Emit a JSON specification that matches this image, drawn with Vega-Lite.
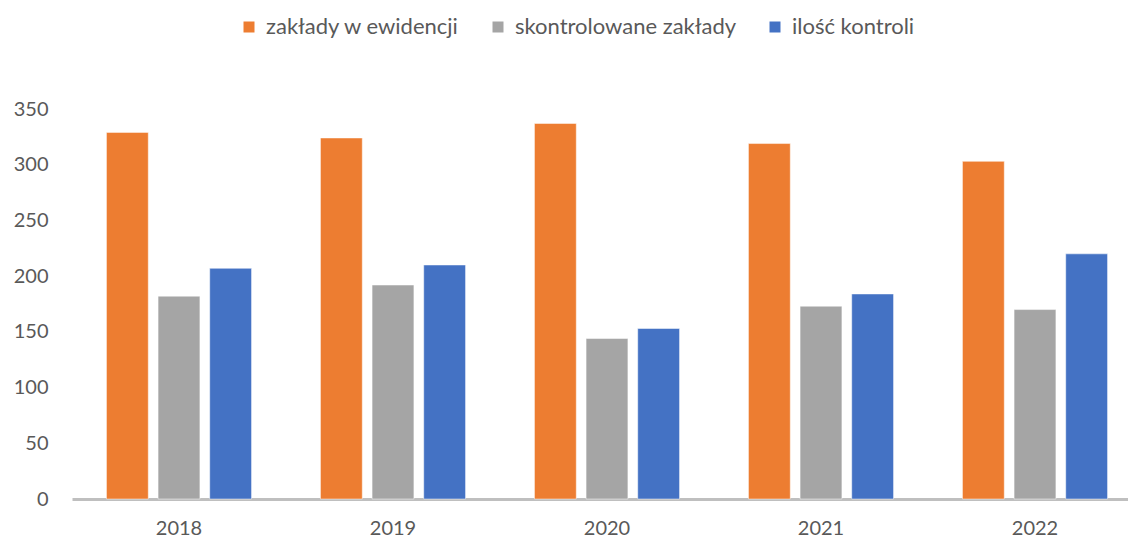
{
  "$schema": "https://vega.github.io/schema/vega-lite/v6.json",
  "width": 1070,
  "height": 390,
  "autosize": "none",
  "padding": {"left": 72, "top": 109, "right": 0, "bottom": 39},
  "background": "white",
  "config": {
    "font": "Lato",
    "view": {"stroke": null}
  },
  "data": {
    "values": [
      {"rok": "2018", "seria": "zakłady w ewidencji", "wartosc": 329},
      {"rok": "2018", "seria": "skontrolowane zakłady", "wartosc": 182},
      {"rok": "2018", "seria": "ilość kontroli", "wartosc": 207},
      {"rok": "2019", "seria": "zakłady w ewidencji", "wartosc": 324},
      {"rok": "2019", "seria": "skontrolowane zakłady", "wartosc": 192},
      {"rok": "2019", "seria": "ilość kontroli", "wartosc": 210},
      {"rok": "2020", "seria": "zakłady w ewidencji", "wartosc": 337},
      {"rok": "2020", "seria": "skontrolowane zakłady", "wartosc": 144},
      {"rok": "2020", "seria": "ilość kontroli", "wartosc": 153},
      {"rok": "2021", "seria": "zakłady w ewidencji", "wartosc": 319},
      {"rok": "2021", "seria": "skontrolowane zakłady", "wartosc": 173},
      {"rok": "2021", "seria": "ilość kontroli", "wartosc": 184},
      {"rok": "2022", "seria": "zakłady w ewidencji", "wartosc": 303},
      {"rok": "2022", "seria": "skontrolowane zakłady", "wartosc": 170},
      {"rok": "2022", "seria": "ilość kontroli", "wartosc": 220}
    ]
  },
  "mark": {"type": "bar", "stroke": "white", "strokeWidth": 0.8, "strokeOpacity": 0.6},
  "encoding": {
    "x": {
      "field": "rok",
      "type": "nominal",
      "scale": {"paddingInner": 0.322, "paddingOuter": 0.161},
      "axis": {
        "title": null,
        "labelAngle": 0,
        "labelFontSize": 20,
        "labelColor": "#595959",
        "labelPadding": 19,
        "ticks": false,
        "domainColor": "#BFBFBF",
        "domainWidth": 3
      }
    },
    "xOffset": {
      "field": "seria",
      "type": "nominal",
      "sort": ["zakłady w ewidencji", "skontrolowane zakłady", "ilość kontroli"],
      "scale": {"paddingInner": 0.19, "paddingOuter": 0}
    },
    "y": {
      "field": "wartosc",
      "type": "quantitative",
      "scale": {"domain": [0, 350], "nice": false},
      "axis": {
        "title": null,
        "values": [0, 50, 100, 150, 200, 250, 300, 350],
        "grid": false,
        "domain": false,
        "ticks": false,
        "labelFontSize": 20,
        "labelColor": "#595959",
        "labelPadding": 24
      }
    },
    "color": {
      "field": "seria",
      "type": "nominal",
      "sort": ["zakłady w ewidencji", "skontrolowane zakłady", "ilość kontroli"],
      "scale": {
        "domain": ["zakłady w ewidencji", "skontrolowane zakłady", "ilość kontroli"],
        "range": ["#ED7D31", "#A5A5A5", "#4472C4"]
      },
      "legend": {
        "title": null,
        "orient": "none",
        "direction": "horizontal",
        "legendX": 166,
        "legendY": -93,
        "symbolType": "square",
        "symbolSize": 121,
        "symbolStrokeWidth": 0,
        "labelFontSize": 22,
        "labelLimit": 400,
        "labelColor": "#595959",
        "columnPadding": 27,
        "labelOffset": 6
      }
    }
  }
}
